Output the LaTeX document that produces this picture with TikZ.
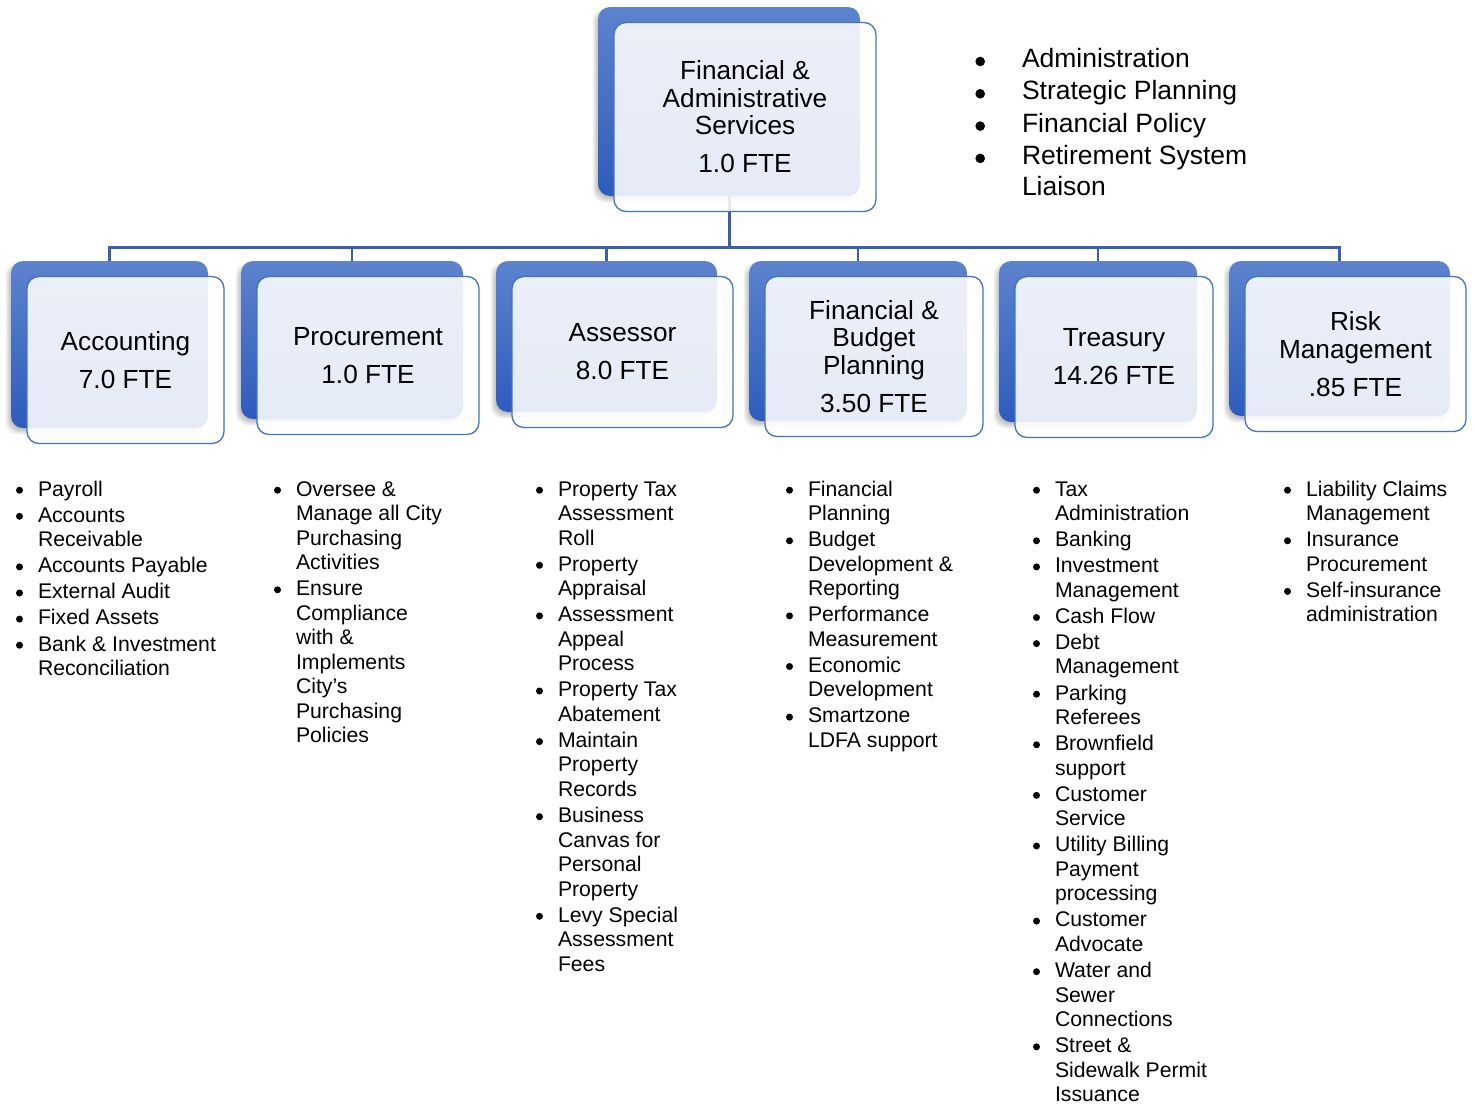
\documentclass[tikz,border=0pt]{standalone}
\usepackage{fontspec}
\setmainfont{Liberation Sans}
\usetikzlibrary{backgrounds}

\definecolor{backtop}{RGB}{93,131,205}
\definecolor{backbot}{RGB}{46,92,189}
\definecolor{boxline}{RGB}{68,114,196}
\definecolor{linkblue}{RGB}{59,96,168}

\newlength\bgap
% round bullet: #1 radius, #2 height of its centre above the baseline
\newcommand\bdot[2]{\tikz[baseline=0pt,x=1pt,y=1pt]\fill[black] (#1,#2) circle (#1);}
\newcommand\bulletmark{\bdot{3.5}{5.8}}
% bullet item: the bullet hangs to the left of the text column
\newcommand\bitem{\par\noindent\llap{\bulletmark\hspace{\bgap}}}

% unit box: back tab + translucent front card carrying the text
% #1 name, #2..#5 back box corners (x1,y1,x2,y2), #6 text
\newcommand\orgunit[6]{%
  \pgfmathsetmacro\ux{(#2+#4)/2}\pgfmathsetmacro\uy{(#3+#5)/2}%
  \pgfmathsetmacro\uw{#4-#2}\pgfmathsetmacro\uh{#5-#3}%
  \foreach \k in {0,...,5}{%
    \pgfmathsetmacro\ue{\k-2.5}%
    \fill[black,opacity=0.045,rounded corners=12pt]
      (#2-3-\ue,#3+4-\ue) rectangle (#4-3+\ue,#5+4+\ue);}
  \node[backbox,minimum width=\uw pt,minimum height=\uh pt] (#1b) at (\ux,\uy) {};
  \node[frontbox,minimum width=\uw pt,minimum height=\uh pt] (#1) at (\ux+16,\uy+15.5) {#6};
}

\tikzset{
  backbox/.style={rectangle,rounded corners=12pt,inner sep=0pt,outer sep=0pt,
    top color=backtop,bottom color=backbot,draw=none},
  frontbox/.style={rectangle,rounded corners=12pt,inner sep=0pt,outer sep=0pt,
    fill=white,fill opacity=0.88,text opacity=1,draw=boxline,line width=1.3pt,
    align=center,font=\fontsize{26.2}{27.5}\selectfont},
  duties/.style={anchor=base west,inner sep=0pt,outer sep=0pt},
  link/.style={draw=linkblue,line width=2.2pt},
}

\newcommand\smalllist[1]{\parbox[t]{320pt}{\raggedright\fontsize{21.2}{24.5}\selectfont
  \setlength\parskip{1.6pt}\setlength\bgap{15pt}#1}}

\begin{document}
\begin{tikzpicture}[x=1pt,y=-1pt]
\useasboundingbox (0,0) rectangle (1475,1106);

% director and departments
\orgunit{fas}{598}{7}{860}{196}{Financial \&\\Administrative\\Services\\[10.5pt]1.0 FTE}
\orgunit{acc}{11}{261}{208}{428}{Accounting\\[10.5pt]7.0 FTE}
\orgunit{prc}{241}{261}{463}{419}{Procurement\\[10.5pt]1.0 FTE}
\orgunit{asr}{496}{261}{717}{412}{Assessor\\[10.5pt]8.0 FTE}
\orgunit{fbp}{749}{261}{967}{421}{Financial \&\\Budget\\Planning\\[10.5pt]3.50 FTE}
\orgunit{trs}{999}{261}{1197}{422}{Treasury\\[10.5pt]14.26 FTE}
\orgunit{rsk}{1229}{261}{1450}{416}{Risk\\Management\\[10.5pt].85 FTE}

% reporting lines
\begin{pgfonlayer}{background}
  \fill[white] (0,0) rectangle (1475,1106);
  \coordinate (bus) at (729,247.5);
  \draw[link,line width=3pt] (fasb.south) -- (fasb.south |- bus);
  \foreach \d in {acc,prc,asr,fbp,trs,rsk}{
    \draw[link] (fasb.south |- bus) -| (\d b.north);}
\end{pgfonlayer}

% responsibilities of the director
\node[duties] (fasduties) at (1022,67.5) {\parbox[t]{320pt}{\raggedright
  \fontsize{26.5}{31}\selectfont\setlength\parskip{1.3pt}\setlength\bgap{37pt}%
  \renewcommand\bulletmark{\bdot{4.8}{6}}%
  \bitem Administration
  \bitem Strategic Planning
  \bitem Financial Policy
  \bitem Retirement System\\Liaison}};

% responsibilities of each department
\node[duties] (accduties) at (38,496) {\smalllist{%
  \bitem Payroll
  \bitem Accounts\\Receivable
  \bitem Accounts Payable
  \bitem External Audit
  \bitem Fixed Assets
  \bitem Bank \& Investment\\Reconciliation}};

\node[duties] (prcduties) at (296,496) {\smalllist{%
  \bitem Oversee \&\\Manage all City\\Purchasing\\Activities
  \bitem Ensure\\Compliance\\with \&\\Implements\\City’s\\Purchasing\\Policies}};

\node[duties] (asrduties) at (558,496) {\smalllist{%
  \bitem Property Tax\\Assessment\\Roll
  \bitem Property\\Appraisal
  \bitem Assessment\\Appeal\\Process
  \bitem Property Tax\\Abatement
  \bitem Maintain\\Property\\Records
  \bitem Business\\Canvas for\\Personal\\Property
  \bitem Levy Special\\Assessment\\Fees}};

\node[duties] (fbpduties) at (808,496) {\smalllist{%
  \bitem Financial\\Planning
  \bitem Budget\\Development \&\\Reporting
  \bitem Performance\\Measurement
  \bitem Economic\\Development
  \bitem Smartzone\\LDFA support}};

\node[duties] (trsduties) at (1055,496) {\smalllist{%
  \bitem Tax\\Administration
  \bitem Banking
  \bitem Investment\\Management
  \bitem Cash Flow
  \bitem Debt\\Management
  \bitem Parking\\Referees
  \bitem Brownfield\\support
  \bitem Customer\\Service
  \bitem Utility Billing\\Payment\\processing
  \bitem Customer\\Advocate
  \bitem Water and\\Sewer\\Connections
  \bitem Street \&\\Sidewalk Permit\\Issuance}};

\node[duties] (rskduties) at (1306,496) {\smalllist{%
  \bitem Liability Claims\\Management
  \bitem Insurance\\Procurement
  \bitem Self-insurance\\administration}};
\end{tikzpicture}
\end{document}
